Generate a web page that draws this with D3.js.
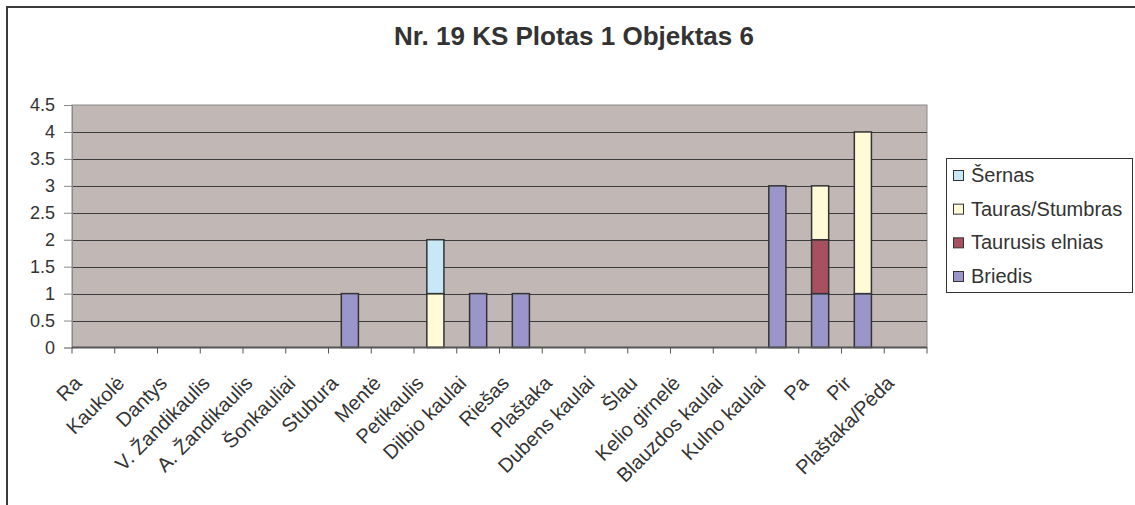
<!DOCTYPE html>
<html>
<head>
<meta charset="utf-8">
<script src="https://cdn.jsdelivr.net/npm/d3@7"></script>
<style>
  html, body { margin: 0; padding: 0; background: #fff; overflow: hidden; }
  svg { display: block; font-family: "Liberation Sans", Arial, sans-serif; }
</style>
</head>
<body>
<svg id="chart" width="1135" height="505"></svg>
<script>
const title = "Nr. 19 KS Plotas 1 Objektas 6";
const categories = ["Ra", "Kaukolė", "Dantys", "V. Žandikaulis", "A. Žandikaulis", "Šonkauliai",
  "Stubura", "Mentė", "Petikaulis", "Dilbio kaulai", "Riešas", "Plaštaka", "Dubens kaulai",
  "Šlau", "Kelio girnelė", "Blauzdos kaulai", "Kulno kaulai", "Pa", "Pir", "Plaštaka/Pėda"];
const seriesNames = ["Briedis", "Taurusis elnias", "Tauras/Stumbras", "Šernas"];
const briedis   = [0,0,0,0,0,0,1,0,0,1,1,0,0,0,0,0,3,1,1,0];
const taurusis  = [0,0,0,0,0,0,0,0,0,0,0,0,0,0,0,0,0,1,0,0];
const tauras    = [0,0,0,0,0,0,0,0,1,0,0,0,0,0,0,0,0,1,3,0];
const sernas    = [0,0,0,0,0,0,0,0,1,0,0,0,0,0,0,0,0,0,0,0];
const yTicks = [0, 0.5, 1, 1.5, 2, 2.5, 3, 3.5, 4, 4.5];
const colors = ["#9B96C9", "#A65060", "#FFFAD8", "#C8E8F8"];

const seriesValues = [briedis, taurusis, tauras, sernas];
const table = categories.map((c, i) => {
  const row = { cat: c };
  seriesNames.forEach((s, k) => row[s] = seriesValues[k][i]);
  return row;
});

const svg = d3.select("#chart");
const W = 1135, H = 505;
const m = { left: 72, right: 927, top: 105, bottom: 347.5 };

svg.append("rect").attr("width", W).attr("height", H).attr("fill", "#fff");
// outer chart frame (only top and left edges fall inside the picture)
svg.append("line").attr("x1", 6.5).attr("x2", W).attr("y1", 7).attr("y2", 7)
  .attr("stroke", "#3a3a3a").attr("stroke-width", 2);
svg.append("line").attr("x1", 7).attr("x2", 7).attr("y1", 6).attr("y2", H)
  .attr("stroke", "#3a3a3a").attr("stroke-width", 2);

svg.append("text").attr("x", 574).attr("y", 45).attr("text-anchor", "middle")
  .attr("font-size", 26).attr("font-weight", "bold").attr("fill", "#333").text(title);

const x = d3.scaleBand().domain(categories).range([m.left, m.right])
  .paddingInner(0.6).paddingOuter(0.3);
const y = d3.scaleLinear().domain([0, 4.5]).range([m.bottom, m.top]);
const step = x.step();

// plot background
svg.append("rect").attr("x", m.left).attr("y", m.top)
  .attr("width", m.right - m.left).attr("height", m.bottom - m.top)
  .attr("fill", "#C1B8B6").attr("stroke", "#8a8a8a").attr("stroke-width", 1);

// gridlines
svg.append("g").selectAll("line").data(yTicks.filter(t => t > 0 && t < 4.5)).join("line")
  .attr("x1", m.left).attr("x2", m.right)
  .attr("y1", d => Math.round(y(d)) + 0.5).attr("y2", d => Math.round(y(d)) + 0.5)
  .attr("stroke", "#3c3c3c").attr("stroke-width", 1);

// y axis
const yAxis = d3.axisLeft(y).tickValues(yTicks).tickSize(8).tickPadding(9)
  .tickFormat(d3.format("~g"));
const gy = svg.append("g").attr("transform", `translate(${m.left},0)`).call(yAxis);
gy.select(".domain").attr("stroke", "#8a8a8a");
gy.selectAll(".tick line").attr("stroke", "#8a8a8a");
gy.selectAll(".tick text").attr("font-size", 18).attr("fill", "#333")
  .attr("font-family", "Liberation Sans, Arial, sans-serif");

// bars
const stack = d3.stack().keys(seriesNames)(table);
svg.append("g").selectAll("g").data(stack).join("g")
  .attr("fill", (d, i) => colors[i])
  .selectAll("rect").data(d => d.filter(p => p[1] - p[0] > 0)).join("rect")
  .attr("x", d => x(d.data.cat))
  .attr("width", x.bandwidth())
  .attr("y", d => y(d[1]))
  .attr("height", d => y(d[0]) - y(d[1]))
  .attr("stroke", "#333").attr("stroke-width", 1.5);

// x axis line and ticks at category boundaries
const boundaries = categories.map(c => x(c) + x.bandwidth() / 2 - step / 2);
boundaries.push(x(categories[categories.length - 1]) + x.bandwidth() / 2 + step / 2);
svg.append("g").selectAll("line").data(boundaries).join("line")
  .attr("x1", d => d).attr("x2", d => d)
  .attr("y1", m.bottom).attr("y2", m.bottom + 6)
  .attr("stroke", "#555").attr("stroke-width", 1);
svg.append("line").attr("x1", m.left).attr("x2", m.right)
  .attr("y1", m.bottom).attr("y2", m.bottom)
  .attr("stroke", "#555").attr("stroke-width", 2);

// x labels (rotated)
svg.append("g").selectAll("text").data(categories).join("text")
  .attr("transform", c => `translate(${x(c) + x.bandwidth() / 2 - 10.5},${m.bottom + 37}) rotate(-45)`)
  .attr("text-anchor", "end")
  .attr("font-size", 20).attr("fill", "#333")
  .text(c => c);

// legend
const lg = svg.append("g");
lg.append("rect").attr("x", 946.5).attr("y", 158.5).attr("width", 186).attr("height", 134)
  .attr("fill", "#fff").attr("stroke", "#333").attr("stroke-width", 1);
const legendOrder = seriesNames.map((s, i) => ({ s, c: colors[i] })).reverse();
const ly = d3.scalePoint().domain(legendOrder.map(d => d.s)).range([175, 276]);
const li = lg.selectAll("g").data(legendOrder).join("g")
  .attr("transform", d => `translate(953,${ly(d.s)})`);
li.append("rect").attr("x", 0.5).attr("y", -4.5).attr("width", 10).attr("height", 10)
  .attr("fill", d => d.c).attr("stroke", "#333").attr("stroke-width", 1);
li.append("text").attr("x", 18).attr("y", 0).attr("dy", "0.35em")
  .attr("font-size", 20).attr("fill", "#333").text(d => d.s);
</script>
</body>
</html>
